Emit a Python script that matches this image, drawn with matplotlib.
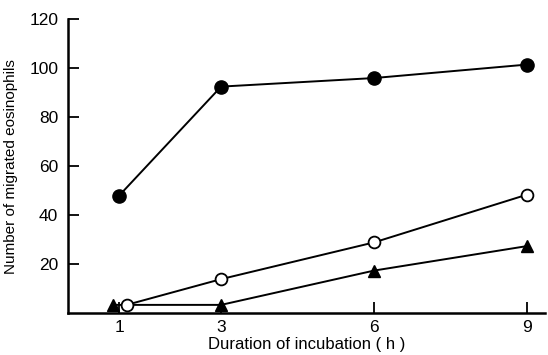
import matplotlib.pyplot as plt

plt.rcParams['font.family'] = ['Liberation Sans', 'DejaVu Sans']

# Data
hours = [1, 3, 6, 9]
filled_circles = [48, 92.5, 96, 101.5]
open_x = [1.15, 3, 6, 9]
open_circles = [3.5, 14, 29, 48.5]
tri_x = [0.88, 3, 6, 9]
triangles = [3.5, 3.5, 17.5, 27.5]

fig = plt.figure(figsize=(5.48, 3.55), dpi=100)
ax = fig.add_axes([0.124, 0.117, 0.871, 0.829])

ax.plot(hours, filled_circles, color='black', lw=1.4, marker='o', ms=9.5,
        mfc='black', mec='black', zorder=3)
ax.plot(tri_x, triangles, color='black', lw=1.4, marker='^', ms=8.5,
        mfc='black', mec='black', zorder=2)
ax.plot(open_x, open_circles, color='black', lw=1.4, marker='o', ms=8.5,
        mfc='white', mec='black', mew=1.3, zorder=4)

ax.set_xlim(0, 9.35)
ax.set_ylim(0, 120)
ax.set_xticks(hours)
ax.set_xticklabels(['1', '3', '6', '9'])
ax.set_yticks([20, 40, 60, 80, 100, 120])

for side in ['top', 'right']:
    ax.spines[side].set_visible(False)
for side in ['left', 'bottom']:
    ax.spines[side].set_linewidth(1.8)

ax.tick_params(direction='in', length=8, width=1.3, labelsize=12.5)
ax.tick_params(axis='y', pad=7)
ax.tick_params(axis='x', pad=5)

ax.set_xlabel('Duration of incubation ( h )', fontsize=12, labelpad=1)
ax.set_ylabel('Number of migrated eosinophils', fontsize=11, labelpad=8)

plt.savefig('out.png', dpi=100)
